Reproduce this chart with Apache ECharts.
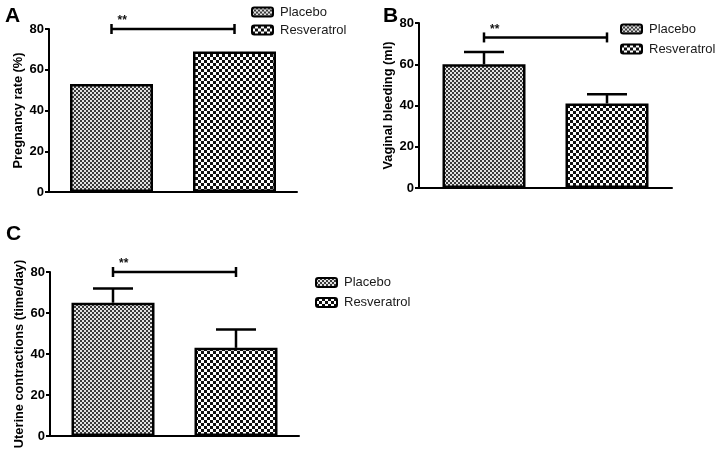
<!DOCTYPE html>
<html>
<head>
<meta charset="utf-8">
<script src="https://cdn.jsdelivr.net/npm/echarts@6/dist/echarts.min.js"></script>
<style>
html,body{margin:0;padding:0;background:#fff;}
#chart{width:718px;height:453px;}
</style>
</head>
<body>
<div id="chart"></div>
<script>
// ---- data ----
var groups = ['Placebo', 'Resveratrol'];
var panelLetters = ['A', 'B', 'C'];
var yTitles = ['Pregnancy rate (%)', 'Vaginal bleeding (ml)', 'Uterine contractions (time/day)'];
var yTicks = [0, 20, 40, 60, 80];
var pregnancyRate = [53, 69];
var vaginalBleeding = [60, 41];
var vaginalBleedingErr = [6, 4.5];
var uterineContractions = [65, 43];
var uterineContractionsErr = [7, 9];
var sigLabels = ['**', '**', '**'];
var sigLevels = [80, 73, 80];

// ---- styling ----
var FONT = '"Liberation Sans", Arial, sans-serif';
var BAR_W = 83, BAR_GAP = 40;
var HALF = (BAR_W + BAR_GAP) / 2;

function makePattern(size, cell, dark, light) {
  var c = document.createElement('canvas');
  c.width = size; c.height = size;
  var ctx = c.getContext('2d');
  ctx.fillStyle = light; ctx.fillRect(0, 0, size, size);
  ctx.fillStyle = dark;
  ctx.fillRect(0, 0, cell, cell);
  ctx.fillRect(cell, cell, cell, cell);
  return c;
}
var patPlacebo = {image: makePattern(4, 2, '#3a3a3a', '#e2e2e2'), repeat: 'repeat'};
var patRes = {image: makePattern(6, 3, '#111111', '#ffffff'), repeat: 'repeat'};
var patterns = [patPlacebo, patRes];

var panelValues = [pregnancyRate, vaginalBleeding, uterineContractions];
var panelErrors = [null, vaginalBleedingErr, uterineContractionsErr];

var grids = [
  {left: 49, top: 29, width: 248, height: 163},
  {left: 419, top: 23, width: 253, height: 165},
  {left: 50, top: 272, width: 249, height: 164}
];
var legendPos = [
  {left: 251, top: 5.5, itemGap: 5},
  {left: 620, top: 22.5, itemGap: 7},
  {left: 315, top: 276, itemGap: 7}
];
var letterPos = [[5, 6], [383, 6], [6, 224]];

var xAxes = [], yAxes = [], series = [], legends = [], graphics = [];

grids.forEach(function (g, i) {
  xAxes.push({
    gridIndex: i, type: 'category', data: [''],
    axisLine: {lineStyle: {color: '#000', width: 2}},
    axisTick: {alignWithLabel: true, length: 5, lineStyle: {color: '#000', width: 2}},
    axisLabel: {show: false}
  });
  yAxes.push({
    gridIndex: i, type: 'value', min: yTicks[0], max: yTicks[yTicks.length - 1], interval: yTicks[1] - yTicks[0],
    name: yTitles[i], nameLocation: 'middle', nameGap: 24,
    nameTextStyle: {fontFamily: FONT, fontWeight: 'bold', fontSize: 12.8, color: '#000'},
    axisLine: {show: true, lineStyle: {color: '#000', width: 2}},
    axisTick: {show: true, length: 4, lineStyle: {color: '#000', width: 2}},
    axisLabel: {fontFamily: FONT, fontWeight: 'bold', fontSize: 13, color: '#000', margin: 5},
    splitLine: {show: false}
  });
  groups.forEach(function (name, k) {
    series.push({
      name: name, type: 'bar', xAxisIndex: i, yAxisIndex: i,
      data: [panelValues[i][k]],
      barWidth: BAR_W, barGap: (BAR_GAP / BAR_W * 100) + '%',
      itemStyle: {color: patterns[k], borderColor: '#000', borderWidth: 2.5},
      emphasis: {disabled: true},
      z: 2
    });
  });
  if (panelErrors[i]) {
    var errData = groups.map(function (n, k) { return [0, panelValues[i][k], panelErrors[i][k], k]; });
    series.push({
      name: 'err' + i, type: 'custom', xAxisIndex: i, yAxisIndex: i,
      data: errData, z: 5, silent: true,
      renderItem: function (params, api) {
        var k = api.value(3);
        var base = api.coord([0, api.value(1)]);
        var top = api.coord([0, api.value(1) + api.value(2)]);
        var x = base[0] + (k === 0 ? -HALF : HALF);
        return {type: 'group', children: [
          {type: 'line', shape: {x1: x, y1: base[1], x2: x, y2: top[1]}, style: {stroke: '#000', lineWidth: 2.5}},
          {type: 'line', shape: {x1: x - 20, y1: top[1], x2: x + 20, y2: top[1]}, style: {stroke: '#000', lineWidth: 2.5}}
        ]};
      }
    });
  }
  (function (idx) {
    series.push({
      name: 'sig' + idx, type: 'custom', xAxisIndex: idx, yAxisIndex: idx,
      data: [[0, sigLevels[idx]]], z: 5, silent: true,
      renderItem: function (params, api) {
        var p = api.coord([0, api.value(1)]);
        var x1 = p[0] - HALF, x2 = p[0] + HALF, y = p[1];
        return {type: 'group', children: [
          {type: 'line', shape: {x1: x1, y1: y, x2: x2, y2: y}, style: {stroke: '#000', lineWidth: 2.5}},
          {type: 'line', shape: {x1: x1, y1: y - 5, x2: x1, y2: y + 5}, style: {stroke: '#000', lineWidth: 2.5}},
          {type: 'line', shape: {x1: x2, y1: y - 5, x2: x2, y2: y + 5}, style: {stroke: '#000', lineWidth: 2.5}},
          {type: 'text', x: x1 + 6, y: y - 8, style: {text: sigLabels[idx], fill: '#111', font: 'bold 12px ' + FONT, textVerticalAlign: 'middle'}}
        ]};
      }
    });
  })(i);
  legends.push({
    orient: 'vertical', left: legendPos[i].left, top: legendPos[i].top, itemGap: legendPos[i].itemGap,
    padding: 0,
    data: groups, itemWidth: 21, itemHeight: 9, icon: 'roundRect',
    itemStyle: {borderColor: '#000', borderWidth: 2},
    textStyle: {fontFamily: FONT, fontSize: 13, color: '#1a1a1a', padding: [0, 0, 0, 2]},
    selectedMode: false
  });
  graphics.push({
    type: 'text', left: letterPos[i][0], top: letterPos[i][1],
    style: {text: panelLetters[i], font: 'bold 21px ' + FONT, fill: '#000'}
  });
});

var chart = echarts.init(document.getElementById('chart'), null, {renderer: 'canvas'});
chart.setOption({
  animation: false,
  backgroundColor: '#fff',
  grid: grids,
  xAxis: xAxes,
  yAxis: yAxes,
  legend: legends,
  series: series,
  graphic: graphics
});
</script>
</body>
</html>
